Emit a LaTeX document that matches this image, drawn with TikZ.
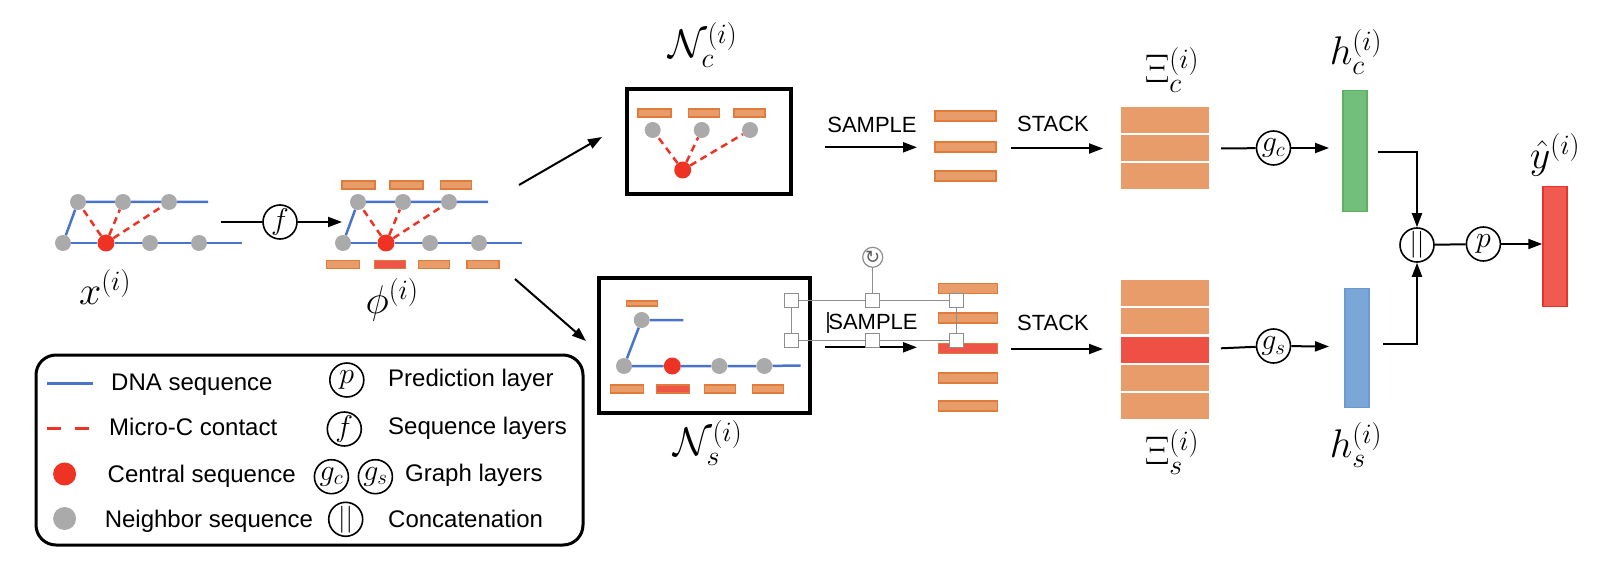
\documentclass[tikz,border=0pt]{standalone}
\usepackage{fix-cm}
\usepackage{fontspec}
\setsansfont{Liberation Sans}
\newfontfamily\symfont{DejaVu Sans}
\usetikzlibrary{arrows.meta}
\definecolor{dnablue}{HTML}{4A74C9}
\definecolor{ctrred}{HTML}{EE3224}
\definecolor{nbgray}{HTML}{AAAAAA}
\definecolor{embfill}{HTML}{E89C6A}
\definecolor{embedge}{HTML}{E07B3A}
\definecolor{selred}{HTML}{EE5548}
\definecolor{rowred}{HTML}{EE5044}
\definecolor{hgreen}{HTML}{72BF7B}
\definecolor{hgreenedge}{HTML}{5DAF62}
\definecolor{hblue}{HTML}{7AA6D8}
\definecolor{hblueedge}{HTML}{6C9AD0}
\definecolor{yred}{HTML}{EF5B50}
\definecolor{yrededge}{HTML}{E8322A}
\definecolor{selgray}{HTML}{8E8E8E}
\definecolor{curgray}{HTML}{333333}
\tikzset{
  nb/.style={circle, fill=nbgray, minimum size=16pt},
  ctr/.style={circle, fill=ctrred, minimum size=17pt},
  dna/.style={dnablue, line width=2.5pt},
  contact/.style={ctrred, line width=2.5pt, dash pattern=on 7pt off 5pt},
  tok/.style={draw=embedge, fill=embfill, line width=1.5pt, minimum width=31pt, minimum height=8pt},
  cell/.style={fill=embfill, minimum width=88pt, minimum height=26pt},
  hbar/.style={line width=1.5pt, minimum width=24pt, minimum height=120pt},
  op/.style={circle, draw, line width=1.6pt, minimum size=34pt, font=\fontsize{30}{30}\selectfont},
  cat/.style={op, font=\fontsize{27}{27}\selectfont},
  flow/.style={-{Triangle[length=14pt,width=10pt]}, line width=2pt},
  lbl/.style={font=\fontsize{40}{44}\selectfont},
  cmd/.style={font=\sffamily\fontsize{22}{26}\selectfont},
  legtext/.style={font=\sffamily\fontsize{24}{26}\selectfont, anchor=west},
  nbox/.style={draw, line width=4pt},
  grip/.style={draw=selgray, fill=white, line width=1.2pt, minimum size=14pt},
  selline/.style={selgray, line width=1.5pt}
}
\begin{document}
\begin{tikzpicture}[x=1pt, y=-1pt, every node/.style={inner sep=0pt}]
  \useasboundingbox (0,0) rectangle (1610,580);

  % input graph and embedded graph
  \foreach \dx/\g in {0/x, 280/phi} {
    \node[nb] (\g a1) at (78+\dx,202) {};
    \node[nb] (\g a2) at (123+\dx,202) {};
    \node[nb] (\g a3) at (169+\dx,202) {};
    \node[nb] (\g b1) at (63+\dx,243) {};
    \node[ctr] (\g b0) at (106+\dx,243) {};
    \node[nb] (\g b2) at (150+\dx,243) {};
    \node[nb] (\g b3) at (199+\dx,243) {};
    \coordinate (\g ta) at (208+\dx,202);
    \coordinate (\g tb) at (242+\dx,243);
    \draw[dna] (\g b1) -- (\g a1) -- (\g a2) -- (\g a3) -- (\g ta);
    \draw[dna] (\g b1) -- (\g b0) -- (\g b2) -- (\g b3) -- (\g tb);
    \foreach \n in {a1,a2,a3}
      \draw[contact] (\g b0) -- (\g\n);
  }
  \node[tok, minimum width=33pt] (pt1) at (358.5,185) {};
  \node[tok, minimum width=33pt] (pt2) at (406.7,185) {};
  \node[tok] (pt3) at (456,185) {};
  \node[tok, minimum width=33pt] (pb1) at (343,264.7) {};
  \node[tok, fill=selred] (pb0) at (389.8,264.7) {};
  \node[tok] (pb2) at (434.2,264.7) {};
  \node[tok, minimum width=32pt] (pb3) at (482.8,264.7) {};
  \node[lbl] (Lx) at (105,287) {$x^{(i)}$};
  \node[lbl] (Lphi) at (392,300) {$\phi^{(i)}$};

  % sequence layers
  \node[op] (f) at (280,222) {$f$};
  \coordinate (fin) at (221,222);
  \coordinate (fout) at (342,222);
  \draw[line width=2pt] (fin) -- (f);
  \draw[flow] (f) -- (fout);

  \coordinate (up0) at (519,185);
  \coordinate (up1) at (602,137);
  \coordinate (dn0) at (515,279);
  \coordinate (dn1) at (586,341);
  \draw[flow] (up0) -- (up1);
  \draw[flow] (dn0) -- (dn1);

  % central neighbourhood
  \node[nbox, minimum width=164pt, minimum height=105pt] (Nc) at (708.5,141.8) {};
  \node[tok, minimum width=33pt] (ct1) at (654.7,113) {};
  \node[tok] (ct2) at (703.8,113) {};
  \node[tok] (ct3) at (749.7,113) {};
  \node[nb] (cn1) at (652.7,130) {};
  \node[nb] (cn2) at (701.7,130) {};
  \node[nb] (cn3) at (750,130) {};
  \node[ctr] (cn0) at (682.7,170) {};
  \foreach \n in {1,2,3}
    \draw[contact] (cn0) -- (cn\n);
  \node[lbl] (LNc) at (703,45) {$\mathcal{N}_c^{(i)}$};

  % sequential neighbourhood
  \node[nbox, minimum width=211pt, minimum height=134pt] (Ns) at (704,345.5) {};
  \node[tok, minimum height=5pt] (sr0) at (642,303.7) {};
  \node[nb] (sn1) at (641.7,320) {};
  \node[nb] (sn2) at (624,366) {};
  \node[ctr] (sn0) at (672.3,366) {};
  \node[nb] (sn3) at (719.3,366) {};
  \node[nb] (sn4) at (764.3,366) {};
  \coordinate (sta) at (683.3,320);
  \coordinate (stb) at (800.7,365.5);
  \draw[dna] (sta) -- (sn1) -- (sn2) -- (sn0) -- (sn3) -- (sn4) -- (stb);
  \node[tok, minimum width=33pt] (sr1) at (627,388.8) {};
  \node[tok, minimum width=33pt, fill=selred] (sr2) at (673,388.8) {};
  \node[tok] (sr3) at (719.8,388.8) {};
  \node[tok] (sr4) at (767.8,388.8) {};
  \node[lbl] (LNs) at (708,443) {$\mathcal{N}_s^{(i)}$};

  % sampling
  \node[cmd] (smp1) at (872,124.5) {SAMPLE};
  \coordinate (smp1a) at (825,147.3);
  \coordinate (smp1b) at (917,147.3);
  \draw[flow] (smp1a) -- (smp1b);
  \node[cmd] (smp2) at (873,321.7) {SAMPLE};
  \coordinate (smp2a) at (825,347.3);
  \coordinate (smp2b) at (917,347.3);
  \draw[flow] (smp2a) -- (smp2b);
  \foreach \y [count=\i] in {116,147,176}
    \node[tok, minimum width=61pt, minimum height=10pt] (cs\i) at (965.5,\y) {};
  \foreach \y/\c [count=\i] in {288.7/embfill, 318/embfill, 348.3/selred, 378/embfill, 406.2/embfill}
    \node[tok, fill=\c, minimum width=59pt, minimum height=10pt] (ss\i) at (968,\y) {};

  % stacking
  \node[cmd] (stk1) at (1053,124) {STACK};
  \coordinate (stk1a) at (1011,148.5);
  \coordinate (stk1b) at (1103,148.5);
  \draw[flow] (stk1a) -- (stk1b);
  \node[cmd] (stk2) at (1053,323) {STACK};
  \coordinate (stk2a) at (1011,349);
  \coordinate (stk2b) at (1103,349);
  \draw[flow] (stk2a) -- (stk2b);
  \foreach \y [count=\i] in {119.7,148,176.5}
    \node[cell] (xc\i) at (1165,\y) {};
  \foreach \y/\c [count=\i] in {293/embfill, 321.3/embfill, 349.7/rowred, 377.8/embfill, 406.3/embfill}
    \node[cell, fill=\c] (xs\i) at (1165,\y) {};
  \node[lbl] (LXc) at (1172,70) {$\Xi_c^{(i)}$};
  \node[lbl] (LXs) at (1172,452) {$\Xi_s^{(i)}$};

  % graph layers
  \node[op] (gc) at (1273.5,148) {$g_c$};
  \node[op] (gs) at (1273.5,346) {$g_s$};
  \coordinate (gcin) at (1221,148.5);
  \coordinate (gcout) at (1329,148);
  \coordinate (gsin) at (1221,348.3);
  \coordinate (gsout) at (1329,346.5);
  \draw[line width=2pt] (gcin) -- (gc);
  \draw[flow] (gc) -- (gcout);
  \draw[line width=2pt] (gsin) -- (gs);
  \draw[flow] (gs) -- (gsout);
  \node[hbar, fill=hgreen, draw=hgreenedge, minimum height=121pt] (hc) at (1355,151.2) {};
  \node[hbar, fill=hblue, draw=hblueedge, minimum height=119pt] (hs) at (1357,347.8) {};
  \node[lbl] (Lhc) at (1356,52) {$h_c^{(i)}$};
  \node[lbl] (Lhs) at (1356,445) {$h_s^{(i)}$};

  % concatenation and prediction
  \node[cat] (cc) at (1417,245) {$||$};
  \node[op] (pr) at (1483.4,244) {$p$};
  \node[hbar, fill=yred, draw=yrededge] (yh) at (1555,246.7) {};
  \node[lbl] (Ly) at (1555,155) {$\hat{y}^{(i)}$};
  \coordinate (hcout) at (1378,151.7);
  \coordinate (hsout) at (1383,344.3);
  \draw[flow] (hcout) -| (cc);
  \draw[flow] (hsout) -| (cc);
  \draw[line width=2pt] (cc) -- (pr);
  \draw[flow] (pr) -- (yh.west |- pr);

  % legend
  \node[draw, line width=3pt, rounded corners=20pt, minimum width=547pt, minimum height=190pt] (legend) at (309.5,450) {};
  \coordinate (k1a) at (47,383);
  \coordinate (k1b) at (93,383);
  \draw[dna, line width=3pt] (k1a) -- (k1b);
  \node[legtext] (k1) at (111,385) {DNA sequence};
  \coordinate (k2a) at (47,428);
  \coordinate (k2b) at (90,428);
  \draw[ctrred, line width=3pt, dash pattern=on 14pt off 14pt] (k2a) -- (k2b);
  \node[legtext] (k2) at (109,427) {Micro-C contact};
  \node[ctr, minimum size=23pt] (k3dot) at (64.6,474) {};
  \node[legtext] (k3) at (107.5,476) {Central sequence};
  \node[nb, minimum size=23pt] (k4dot) at (64.6,518.5) {};
  \node[legtext] (k4) at (104.6,521) {Neighbor sequence};
  \node[op] (k5op) at (346.8,380) {$p$};
  \node[legtext] (k5) at (388,380) {Prediction layer};
  \node[op] (k6op) at (344.3,429) {$f$};
  \node[legtext] (k6) at (388,428) {Sequence layers};
  \node[op] (k7op) at (331.4,476.7) {$g_c$};
  \node[op] (k7op2) at (375.4,476.7) {$g_s$};
  \node[legtext] (k7) at (405,475) {Graph layers};
  \node[cat] (k8op) at (345.7,519.3) {$||$};
  \node[legtext] (k8) at (388,519) {Concatenation};

  % text box selection
  \foreach \x/\y [count=\i] in {791.7/300.7, 872.7/300.7, 956.7/300.7, 791.7/340.7, 872.7/340.7, 956.7/340.7}
    \node[grip] (g\i) at (\x,\y) {};
  \draw[selline] (g1) -- (g2) -- (g3) -- (g6) -- (g5) -- (g4) -- (g1);
  \node[circle, draw=selgray, fill=white, line width=1.2pt, minimum size=20pt, text=curgray!80, font=\symfont\fontsize{18}{18}\selectfont] (rot) at (872.7,257.3) {↻};
  \draw[selline] (rot) -- (g2);
  \coordinate (cur0) at (828,311.7);
  \coordinate (cur1) at (828,333);
  \draw[curgray, line width=2.5pt] (cur0) -- (cur1);
\end{tikzpicture}
\end{document}
